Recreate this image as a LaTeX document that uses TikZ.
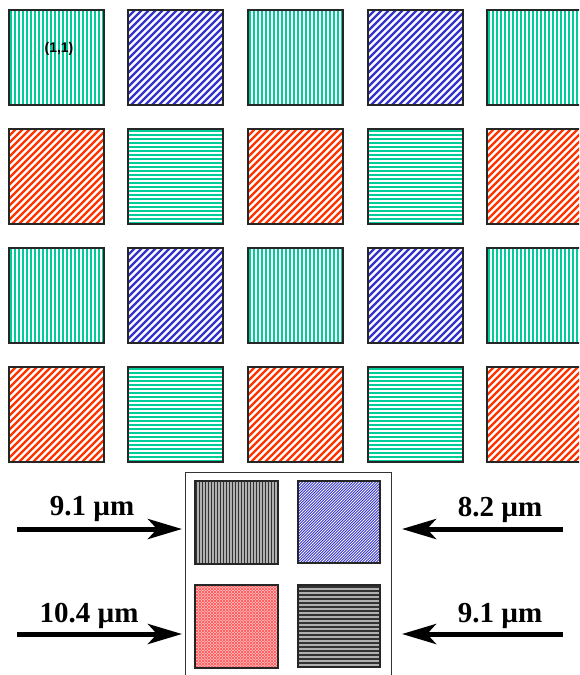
\documentclass[tikz,border=0pt]{standalone}
\usepackage{fontspec}
\setmainfont{Liberation Serif}
\newfontfamily\labsans{Liberation Sans}
\usetikzlibrary{arrows.meta}
\definecolor{tgreen}{HTML}{00CC99}
\definecolor{tblue}{HTML}{3333CC}
\definecolor{tred}{HTML}{FF3300}
\definecolor{dgray}{HTML}{333333}
\definecolor{lgray}{HTML}{B0B0B0}
\definecolor{pinkbg}{HTML}{FFE6E6}
\definecolor{fred}{HTML}{FF6262}
% #1 x, #2 y, #3 size, #4 line colour, #5 bg colour, #6 period, #7 line width
\newcommand\vstr[7]{\begin{scope}\clip (#1,#2) rectangle ++(#3,#3);
  \fill[#5] (#1,#2) rectangle ++(#3,#3);
  \foreach \t in {0,#6,...,#3} \draw[#4,line width=#7] (#1+\t+#6/2,#2) -- ++(0,#3);
  \end{scope}\draw[sqframe] (#1,#2) rectangle ++(#3,#3);}
\newcommand\hstr[7]{\begin{scope}\clip (#1,#2) rectangle ++(#3,#3);
  \fill[#5] (#1,#2) rectangle ++(#3,#3);
  \foreach \t in {0,#6,...,#3} \draw[#4,line width=#7] (#1,#2+\t+#6/2) -- ++(#3,0);
  \end{scope}\draw[sqframe] (#1,#2) rectangle ++(#3,#3);}
\newcommand\dstr[7]{\begin{scope}\clip (#1,#2) rectangle ++(#3,#3);
  \fill[#5] (#1,#2) rectangle ++(#3,#3);
  \pgfmathsetmacro\dsA{-#3}\pgfmathsetmacro\dsB{-#3+#6}
  \foreach \t in {\dsA,\dsB,...,#3} \draw[#4,line width=#7] (#1+\t,#2+#3) -- ++(#3,-#3);
  \end{scope}\draw[sqframe] (#1,#2) rectangle ++(#3,#3);}
\newcommand\xstr[7]{\begin{scope}\clip (#1,#2) rectangle ++(#3,#3);
  \fill[#5] (#1,#2) rectangle ++(#3,#3);
  \pgfmathsetmacro\dsA{-#3}\pgfmathsetmacro\dsB{-#3+#6}
  \foreach \t in {\dsA,\dsB,...,#3} {\draw[#4,line width=#7] (#1+\t,#2+#3) -- ++(#3,-#3);
    \draw[#4,line width=#7] (#1+\t,#2) -- ++(#3,#3);}
  \end{scope}\draw[sqframe] (#1,#2) rectangle ++(#3,#3);}
\tikzset{
  sqframe/.style={draw=black!85,line width=1.1pt},
  bigarrow/.style={line width=5pt,-{Stealth[length=34pt,width=20pt,inset=9pt]}},
  wavelab/.style={font=\fontsize{29}{32}\selectfont\bfseries,inner sep=0pt,anchor=base},
}
\begin{document}
\begin{tikzpicture}[x=1pt,y=-1pt]
\useasboundingbox (0,0) rectangle (579,675);
\fill[white] (0,0) rectangle (579,675);
\clip (0,0) rectangle (579,675);
% grid
\foreach \y in {10,248} {
  \foreach \x in {9,248,487} {\vstr{\x}{\y}{95}{tgreen}{white}{4}{2.5}}
  \foreach \x in {128,368} {\dstr{\x}{\y}{95}{tblue}{white}{7}{2.2}}
}
\foreach \y in {129,367} {
  \foreach \x in {9,248,487} {\dstr{\x}{\y}{95}{tred}{white}{7}{2.2}}
  \foreach \x in {128,368} {\hstr{\x}{\y}{95}{tgreen}{white}{4}{2.5}}
}
\node[font=\labsans\bfseries\fontsize{14}{16}\selectfont,inner sep=0pt] (lab11) at (59,49) {(1,1)};
% bottom box
\draw[black!80,line width=1pt] (185,680) -- (185,472) -- (391,472) -- (391,680);
\coordinate (boxL1) at (182,529);
\coordinate (boxL2) at (182,634);
\coordinate (boxR1) at (402,529);
\coordinate (boxR2) at (402,634);
\vstr{195}{481}{83}{dgray}{lgray}{3}{1.5}
\dstr{298}{481}{82}{tblue}{white}{2.8}{0.9}
\xstr{195}{585}{83}{fred}{pinkbg}{3}{0.8}
\hstr{298}{585}{82}{dgray}{lgray}{4}{1.8}
% arrows
\coordinate (tailL1) at (17,529);
\coordinate (tailL2) at (17,634);
\coordinate (tailR1) at (563,529);
\coordinate (tailR2) at (563,634);
\draw[bigarrow] (tailL1) -- (boxL1);
\draw[bigarrow] (tailL2) -- (boxL2);
\draw[bigarrow] (tailR1) -- (boxR1);
\draw[bigarrow] (tailR2) -- (boxR2);
\node[wavelab] (w1) at (92,515) {9.1 µm};
\node[wavelab] (w2) at (89,622) {10.4 µm};
\node[wavelab] (w3) at (500,516) {8.2 µm};
\node[wavelab] (w4) at (500,622) {9.1 µm};
\end{tikzpicture}
\end{document}
